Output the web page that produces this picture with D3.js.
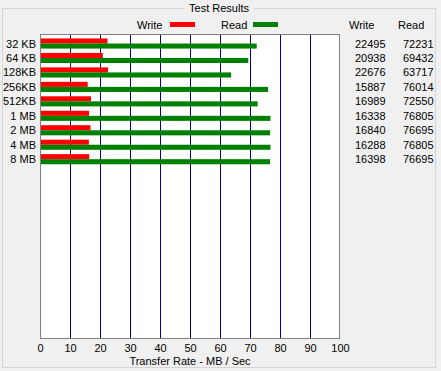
<!DOCTYPE html>
<html>
<head>
<meta charset="utf-8">
<script src="https://cdn.jsdelivr.net/npm/d3@7"></script>
<style>
  html, body { margin: 0; padding: 0; background: #f0f0f0; }
  svg { display: block; font-family: "Liberation Sans", Arial, sans-serif; font-size: 11px; }
</style>
</head>
<body>
<script>
// values (KB/s)
const categories = ["32 KB", "64 KB", "128KB", "256KB", "512KB", "1 MB", "2 MB", "4 MB", "8 MB"];
const writeValues = [22495, 20938, 22676, 15887, 16989, 16338, 16840, 16288, 16398];
const readValues = [72231, 69432, 63717, 76014, 72550, 76805, 76695, 76805, 76695];
const xTicks = [0, 10, 20, 30, 40, 50, 60, 70, 80, 90, 100];

const width = 441;
const height = 371;
const plot = { left: 40, right: 340, top: 34, bottom: 339 };

const svg = d3.select("body").append("svg")
  .attr("width", width)
  .attr("height", height);

// group box
svg.append("rect")
  .attr("x", 2.5).attr("y", 8.5)
  .attr("width", 433).attr("height", 359)
  .attr("fill", "none")
  .attr("stroke", "#d5d5d5");

svg.append("rect")
  .attr("x", 184).attr("y", 2)
  .attr("width", 70).attr("height", 12)
  .attr("fill", "#f0f0f0");

svg.append("text")
  .attr("x", 219).attr("y", 12)
  .attr("text-anchor", "middle")
  .attr("fill", "#000")
  .text("Test Results");

const x = d3.scaleLinear()
  .domain([0, 100])
  .range([plot.left, plot.right]);

const y = d3.scaleBand()
  .domain(categories)
  .range([plot.top + 3, plot.top + 3 + categories.length * 14.3])
  .paddingInner(0.3)
  .paddingOuter(0.1);

// plot background
svg.append("rect")
  .attr("x", plot.left).attr("y", plot.top)
  .attr("width", plot.right - plot.left)
  .attr("height", plot.bottom - plot.top)
  .attr("fill", "#fff");

// grid
svg.append("g")
  .selectAll("line")
  .data(xTicks.slice(1, -1))
  .join("line")
  .attr("x1", d => Math.round(x(d)) + 0.5)
  .attr("x2", d => Math.round(x(d)) + 0.5)
  .attr("y1", plot.top)
  .attr("y2", plot.bottom)
  .attr("stroke", "#0000a0");

// bars
const bh = y.bandwidth() / 2;
const rows = svg.append("g")
  .selectAll("g")
  .data(categories)
  .join("g");

rows.append("rect")
  .attr("x", x(0))
  .attr("y", d => y(d))
  .attr("width", (d, i) => x(writeValues[i] / 1000) - x(0))
  .attr("height", bh)
  .attr("fill", "#ff0000");

rows.append("rect")
  .attr("x", x(0))
  .attr("y", d => y(d) + bh)
  .attr("width", (d, i) => x(readValues[i] / 1000) - x(0))
  .attr("height", bh)
  .attr("fill", "#008000");

// plot border
svg.append("rect")
  .attr("x", plot.left + 0.5).attr("y", plot.top + 0.5)
  .attr("width", plot.right - plot.left - 1)
  .attr("height", plot.bottom - plot.top - 1)
  .attr("fill", "none")
  .attr("stroke", "#808080");

// category labels
svg.append("g")
  .selectAll("text")
  .data(categories)
  .join("text")
  .attr("x", plot.left - 4)
  .attr("y", d => y(d) + y.bandwidth() / 2 + 4)
  .attr("text-anchor", "end")
  .text(d => d);

// x axis
const xAxis = svg.append("g")
  .attr("transform", `translate(0,${plot.bottom})`)
  .call(d3.axisBottom(x).tickValues(xTicks).tickSize(0).tickPadding(5));
xAxis.select(".domain").remove();
xAxis.selectAll("text")
  .attr("font-family", "Liberation Sans, Arial, sans-serif")
  .attr("font-size", 11)
  .attr("fill", "#000");

svg.append("text")
  .attr("x", 190).attr("y", 365)
  .attr("text-anchor", "middle")
  .text("Transfer Rate - MB / Sec");

// legend
svg.append("text").attr("x", 137).attr("y", 29).text("Write");
svg.append("rect").attr("x", 170).attr("y", 22).attr("width", 25).attr("height", 5).attr("fill", "#ff0000");
svg.append("text").attr("x", 221).attr("y", 29).text("Read");
svg.append("rect").attr("x", 253).attr("y", 22).attr("width", 25).attr("height", 5).attr("fill", "#008000");

// value table
svg.append("text").attr("x", 349).attr("y", 29).text("Write");
svg.append("text").attr("x", 398).attr("y", 29).text("Read");

svg.append("g")
  .selectAll("text")
  .data(categories)
  .join("text")
  .attr("x", 355)
  .attr("y", d => y(d) + y.bandwidth() / 2 + 4)
  .text((d, i) => writeValues[i]);

svg.append("g")
  .selectAll("text")
  .data(categories)
  .join("text")
  .attr("x", 403)
  .attr("y", d => y(d) + y.bandwidth() / 2 + 4)
  .text((d, i) => readValues[i]);
</script>
</body>
</html>
